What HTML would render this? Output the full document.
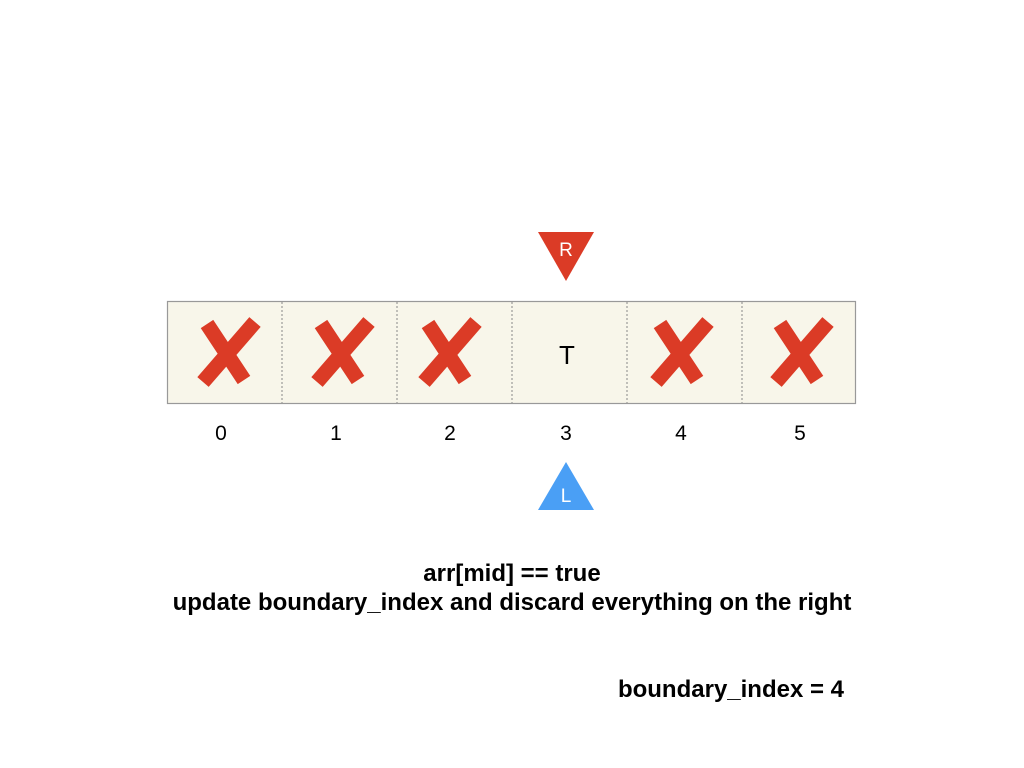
<!DOCTYPE html>
<html><head><style>
body{margin:0;width:1024px;height:768px;background:#fff;font-family:"Liberation Sans",sans-serif;position:relative;overflow:hidden}
</style></head><body>
<svg width="1024" height="768" style="position:absolute;left:0;top:0">
<rect x="167.5" y="301.5" width="688" height="102" fill="#f8f6ea" stroke="#999" stroke-width="1.2"/>
<g stroke="#888" stroke-dasharray="2,2" stroke-width="1">
<line x1="282" y1="302" x2="282" y2="403"/><line x1="397" y1="302" x2="397" y2="403"/>
<line x1="512" y1="302" x2="512" y2="403"/><line x1="627" y1="302" x2="627" y2="403"/>
<line x1="742" y1="302" x2="742" y2="403"/>
</g>
<defs><g id="x"><path d="M-20,-28 L17,28 M28,-30 L-24,30" stroke="#db3b26" stroke-width="15" stroke-linecap="butt" fill="none"/></g></defs>
<use href="#x" x="227" y="352"/><use href="#x" x="341" y="352"/><use href="#x" x="448" y="352"/>
<use href="#x" x="680" y="352"/><use href="#x" x="800" y="352"/>
<text x="567" y="364" font-size="26" text-anchor="middle" font-family="Liberation Sans" fill="#000">T</text>
<polygon points="538,232 594,232 566,281" fill="#db3b26"/>
<text x="566" y="256" font-size="19" fill="#fff" text-anchor="middle" font-family="Liberation Sans">R</text>
<polygon points="566,462 594,510 538,510" fill="#4a9ff5"/>
<text x="566" y="502" font-size="19" fill="#fff" text-anchor="middle" font-family="Liberation Sans">L</text>
<g font-size="21" text-anchor="middle" font-family="Liberation Sans">
<text x="221" y="440">0</text><text x="336" y="440">1</text><text x="450" y="440">2</text>
<text x="566" y="440">3</text><text x="681" y="440">4</text><text x="800" y="440">5</text>
</g>
<g font-size="24" font-weight="bold" text-anchor="middle" font-family="Liberation Sans">
<text x="512" y="581">arr[mid] == true</text>
<text x="512" y="610">update boundary_index and discard everything on the right</text>
<text x="731" y="697">boundary_index = 4</text>
</g>
</svg>
</body></html>
